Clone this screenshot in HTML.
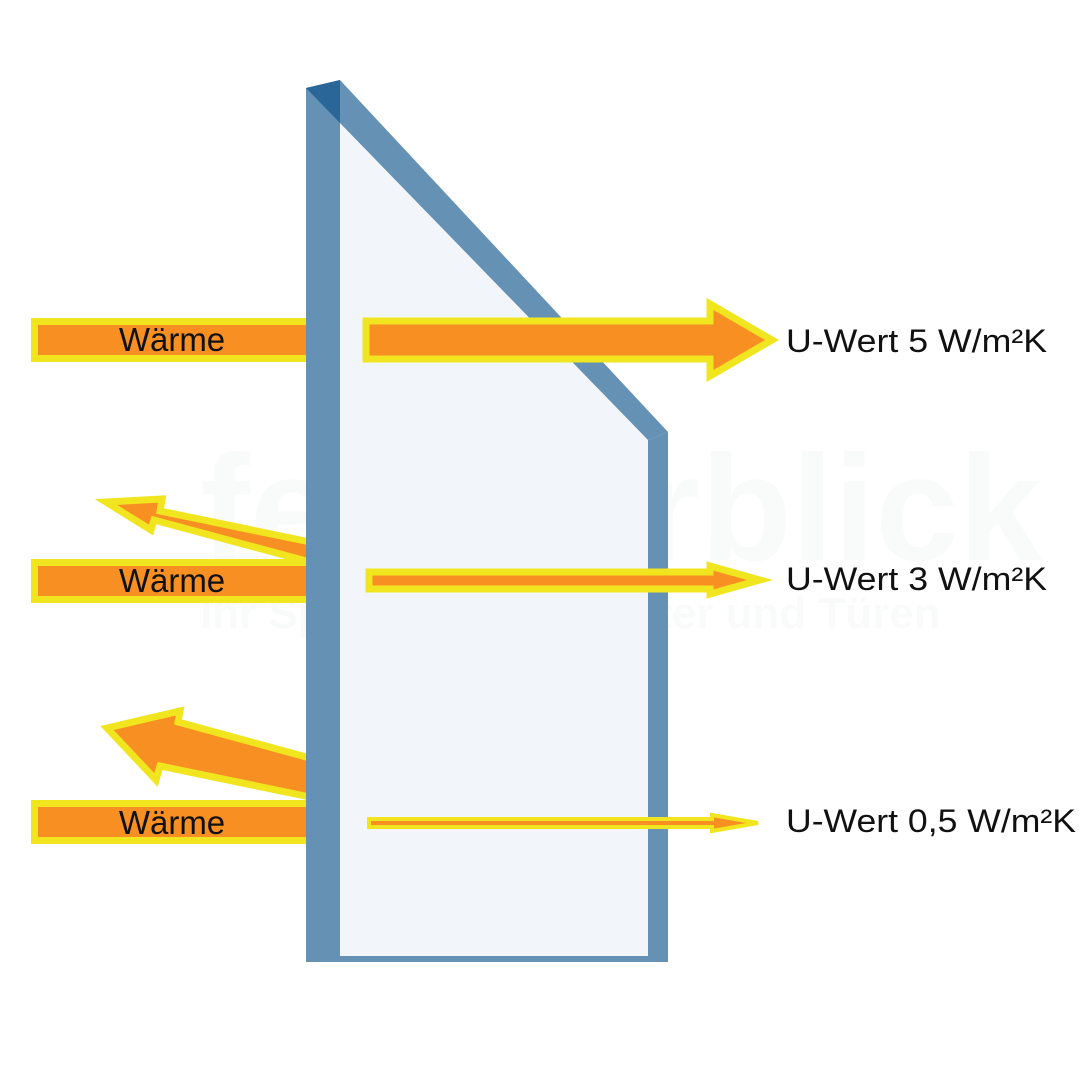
<!DOCTYPE html>
<html><head><meta charset="utf-8"><style>
html,body{margin:0;padding:0;background:#fff;}
svg{display:block;}
text{font-family:"Liberation Sans",sans-serif;}
</style></head><body>
<svg width="1080" height="1080" viewBox="0 0 1080 1080" xmlns="http://www.w3.org/2000/svg">
<rect width="1080" height="1080" fill="#fff"/>
<!-- watermark -->
<g opacity="0.025" fill="#3a4a5a">
<text x="200" y="560" font-size="150" font-weight="bold">fensterblick</text>
<text x="200" y="628" font-size="44" font-weight="bold">Ihr Spezialist für Fenster und Türen</text>
</g>
<g fill="#f78f22" stroke="#f0e51e" stroke-width="7" stroke-linejoin="miter">
<!-- reflected arrows -->
<polygon points="310,542 160,511 162,499 106,502 151,530 154,520 310,562"/>
<polygon points="310,758 178,722 180,711 107,728 156,780 160,766 310,797"/>
<!-- left bars -->
<rect x="34.5" y="321.5" width="280" height="37"/>
<rect x="34.5" y="562.5" width="280" height="37"/>
<rect x="34.5" y="803.5" width="280" height="37"/>
</g>
<!-- glass -->
<polygon points="340,123 648,440 648,956 340,956" fill="#f1f6fa" fill-opacity="0.95"/>
<polygon points="306,88 340,80 340,962 306,962" fill="#6592b4"/>
<polygon points="306,88 340,80 340,123" fill="#2a6698"/>
<polygon points="340,80 668,432 648,440 340,123" fill="#6592b4"/>
<polygon points="648,440 668,432 668,962 648,962" fill="#6592b4"/>
<rect x="340" y="956" width="328" height="6" fill="#6592b4"/>
<g fill="#f78f22" stroke="#f0e51e" stroke-width="7" stroke-linejoin="miter">
<polygon points="366,321 710,321 710,304 772,340 710,376 710,359 366,359"/>
<polygon points="369,572 710,572 710,566 760,580 710,594 710,589 369,589"/>
<polygon points="369,819 712,819 712,815 758,823 712,831 712,827 369,827" stroke-width="4"/>
</g>
<g font-size="33" fill="#111">
<text x="172" y="351" text-anchor="middle">Wärme</text>
<text x="172" y="592" text-anchor="middle">Wärme</text>
<text x="172" y="834" text-anchor="middle">Wärme</text>
</g>
<g font-size="32" fill="#111">
<text x="786" y="352" textLength="261" lengthAdjust="spacingAndGlyphs">U-Wert 5 W/m²K</text>
<text x="786" y="590" textLength="261" lengthAdjust="spacingAndGlyphs">U-Wert 3 W/m²K</text>
<text x="786" y="832" textLength="290" lengthAdjust="spacingAndGlyphs">U-Wert 0,5 W/m²K</text>
</g>
</svg>
</body></html>
